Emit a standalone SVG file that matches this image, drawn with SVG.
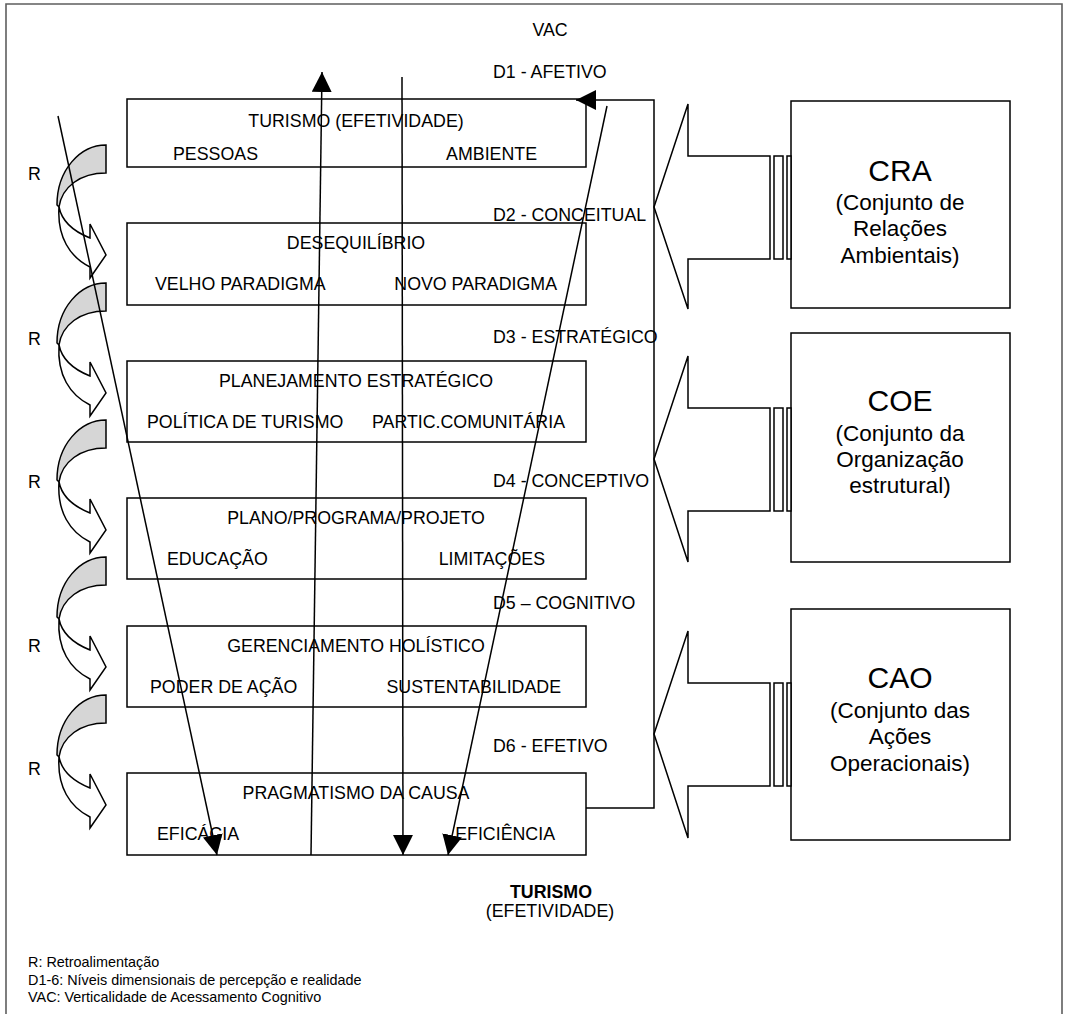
<svg xmlns="http://www.w3.org/2000/svg" width="1065" height="1014" viewBox="0 0 1065 1014">
<style>
text{font-family:"Liberation Sans",Arial,sans-serif;fill:#000}
.t{font-size:17.8px}
.m{text-anchor:middle}
.e{text-anchor:end}
.big{font-size:30px}
.sub{font-size:22.5px}
.leg{font-size:14.4px}
.box{fill:#fff;stroke:#000;stroke-width:1.5}
.ln{fill:none;stroke:#000;stroke-width:1.5}
.blk{fill:#fff;stroke:#000;stroke-width:1.5;stroke-linejoin:miter}
.gray{fill:#d6d6d6;stroke:#000;stroke-width:1.5}
.wht{fill:#fff;stroke:#000;stroke-width:1.5}
</style>
<defs>
<marker id="ah" markerUnits="userSpaceOnUse" viewBox="0 0 20 20" refX="20" refY="10" markerWidth="20" markerHeight="20" orient="auto">
<path d="M0,0 L20,10 L0,20 z" fill="#000"/>
</marker>
<g id="curved">
<path class="wht" d="M59,62 C57,92 70,112 90,122 L90,133 L106,110 L90,79 L90,93 C75,87 62,77 59,62 Z"/>
<path class="gray" d="M106,0 C80,0 57,25 57,60 L59,62 C62,42 80,28 106,28 Z"/>
</g>
</defs>
<rect width="1065" height="1014" fill="#fff"/>
<path d="M6,1014 V4 H1062 V1014" fill="none" stroke="#5e5e5e" stroke-width="1.6"/>

<text class="t m" x="550" y="36">VAC</text>

<g id="node-turismo">
<rect class="box" x="127" y="99" width="459" height="68"/>
<text class="t m" x="356" y="127">TURISMO (EFETIVIDADE)</text>
<text class="t" x="173" y="160">PESSOAS</text>
<text class="t e" x="537" y="160">AMBIENTE</text>
</g>
<g id="node-desequilibrio">
<rect class="box" x="127" y="223" width="459" height="82"/>
<text class="t m" x="356" y="249">DESEQUILÍBRIO</text>
<text class="t" x="155" y="290">VELHO PARADIGMA</text>
<text class="t e" x="557" y="290">NOVO PARADIGMA</text>
</g>
<g id="node-planejamento">
<rect class="box" x="127" y="361" width="459" height="81"/>
<text class="t m" x="356" y="387">PLANEJAMENTO ESTRATÉGICO</text>
<text class="t" x="147" y="428">POLÍTICA DE TURISMO</text>
<text class="t e" x="565" y="428">PARTIC.COMUNITÁRIA</text>
</g>
<g id="node-plano">
<rect class="box" x="127" y="498" width="459" height="81"/>
<text class="t m" x="356" y="524">PLANO/PROGRAMA/PROJETO</text>
<text class="t" x="167" y="565">EDUCAÇÃO</text>
<text class="t e" x="545" y="565">LIMITAÇÕES</text>
</g>
<g id="node-gerenciamento">
<rect class="box" x="127" y="626" width="459" height="81"/>
<text class="t m" x="356" y="652">GERENCIAMENTO HOLÍSTICO</text>
<text class="t" x="150" y="693">PODER DE AÇÃO</text>
<text class="t e" x="561" y="693">SUSTENTABILIDADE</text>
</g>
<g id="node-pragmatismo">
<rect class="box" x="127" y="773" width="459" height="82"/>
<text class="t m" x="356" y="799">PRAGMATISMO DA CAUSA</text>
<text class="t" x="157" y="840">EFICÁCIA</text>
<text class="t e" x="555" y="840">EFICIÊNCIA</text>
</g>

<g id="dim-labels">
<text class="t" x="493" y="78">D1 - AFETIVO</text>
<text class="t" x="493" y="221">D2 - CONCEITUAL</text>
<text class="t" x="493" y="343">D3 - ESTRATÉGICO</text>
<text class="t" x="493" y="487">D4 - CONCEPTIVO</text>
<text class="t" x="493" y="609">D5 – COGNITIVO</text>
<text class="t" x="493" y="752">D6 - EFETIVO</text>
</g>

<g id="node-cra">
<rect class="box" x="791" y="101" width="219" height="207"/>
<text class="big m" x="900" y="181">CRA</text>
<text class="sub m" x="900" y="210">(Conjunto de</text>
<text class="sub m" x="900" y="236">Relações</text>
<text class="sub m" x="900" y="263">Ambientais)</text>
</g>
<g id="node-coe">
<rect class="box" x="791" y="333" width="219" height="229"/>
<text class="big m" x="900" y="411">COE</text>
<text class="sub m" x="900" y="441">(Conjunto da</text>
<text class="sub m" x="900" y="467">Organização</text>
<text class="sub m" x="900" y="493">estrutural)</text>
</g>
<g id="node-cao">
<rect class="box" x="791" y="609" width="219" height="231"/>
<text class="big m" x="900" y="688">CAO</text>
<text class="sub m" x="900" y="718">(Conjunto das</text>
<text class="sub m" x="900" y="744">Ações</text>
<text class="sub m" x="900" y="771">Operacionais)</text>
</g>

<g id="block-arrows">
<polygon class="blk" points="654,207 688,104 688,156 770,156 770,259 688,259 688,309"/>
<rect class="box" x="774" y="156" width="9" height="103"/>
<rect class="box" x="787" y="156" width="4" height="103"/>
<polygon class="blk" points="654,459 688,356 688,408 770,408 770,511 688,511 688,562"/>
<rect class="box" x="774" y="408" width="9" height="103"/>
<rect class="box" x="787" y="408" width="4" height="103"/>
<polygon class="blk" points="654,734 688,631 688,683 770,683 770,786 688,786 688,838"/>
<rect class="box" x="774" y="683" width="9" height="103"/>
<rect class="box" x="787" y="683" width="4" height="103"/>
</g>

<g id="feedback">
<use href="#curved" y="145"/>
<use href="#curved" y="283"/>
<use href="#curved" y="420"/>
<use href="#curved" y="557"/>
<use href="#curved" y="695"/>
<text class="t" x="28" y="180">R</text>
<text class="t" x="28" y="345">R</text>
<text class="t" x="28" y="488">R</text>
<text class="t" x="28" y="652">R</text>
<text class="t" x="28" y="775">R</text>
</g>

<g id="connectors">
<line class="ln" x1="58" y1="116" x2="217" y2="855" marker-end="url(#ah)"/>
<line class="ln" x1="311" y1="855" x2="322" y2="72" marker-end="url(#ah)"/>
<line class="ln" x1="402" y1="77" x2="403" y2="855" marker-end="url(#ah)"/>
<line class="ln" x1="607" y1="106" x2="448" y2="855" marker-end="url(#ah)"/>
<polyline class="ln" points="586,808 654,808 654,100 576,100" marker-end="url(#ah)"/>
</g>

<g id="bottom-label">
<text class="t m" x="551" y="898" style="font-weight:bold">TURISMO</text>
<text class="t m" x="550" y="917">(EFETIVIDADE)</text>
</g>

<g id="legend">
<text class="leg" x="28" y="967">R: Retroalimentação</text>
<text class="leg" x="28" y="985">D1-6: Níveis dimensionais de percepção e realidade</text>
<text class="leg" x="28" y="1002">VAC: Verticalidade de Acessamento Cognitivo</text>
</g>
</svg>
